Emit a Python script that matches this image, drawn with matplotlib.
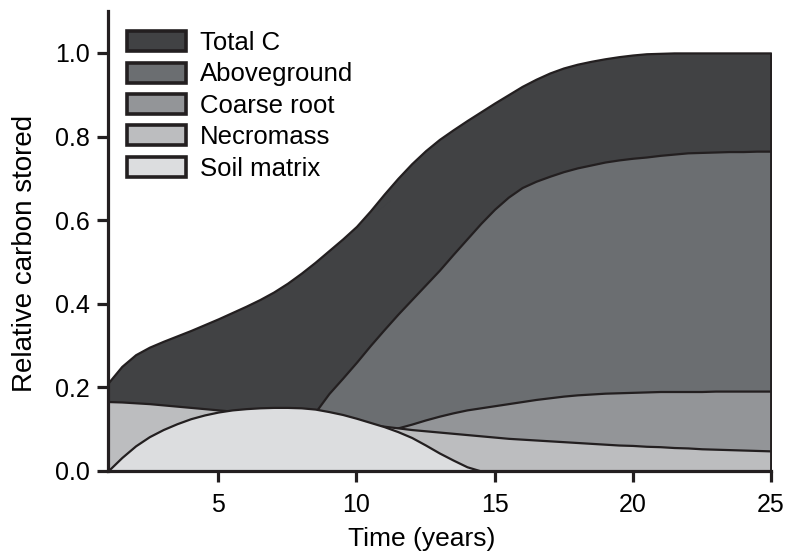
import matplotlib
matplotlib.use("Agg")
import matplotlib.pyplot as plt
from matplotlib.patches import Patch
import numpy as np

plt.rcParams['font.family'] = ['Liberation Sans', 'DejaVu Sans']

# time grid (years), half-year readings
years = np.arange(1.0, 25.5, 0.5)

total_c = [0.21, 0.25, 0.278, 0.296, 0.31, 0.323, 0.336, 0.35, 0.364, 0.379,
           0.394, 0.41, 0.428, 0.449, 0.473, 0.499, 0.527, 0.555, 0.585, 0.622,
           0.662, 0.70, 0.735, 0.766, 0.793, 0.816, 0.838, 0.859, 0.88, 0.90,
           0.92, 0.937, 0.952, 0.964, 0.973, 0.98, 0.986, 0.991, 0.995, 0.998,
           0.999, 1.0, 1.0, 1.0, 1.0, 1.0, 1.0, 1.0, 1.0]
aboveground = [0.0, 0.005, 0.01, 0.015, 0.02, 0.027, 0.035, 0.042, 0.05, 0.057,
               0.065, 0.075, 0.085, 0.097, 0.11, 0.14, 0.185, 0.222, 0.26, 0.30,
               0.338, 0.375, 0.41, 0.445, 0.48, 0.518, 0.555, 0.592, 0.626, 0.655,
               0.678, 0.693, 0.705, 0.716, 0.725, 0.732, 0.739, 0.744, 0.748, 0.751,
               0.755, 0.758, 0.761, 0.762, 0.763, 0.764, 0.764, 0.765, 0.765]
coarse_root = [0.03, 0.032, 0.035, 0.037, 0.04, 0.042, 0.045, 0.047, 0.05, 0.053,
               0.056, 0.059, 0.062, 0.066, 0.07, 0.074, 0.078, 0.082, 0.086, 0.091,
               0.096, 0.103, 0.112, 0.122, 0.131, 0.139, 0.146, 0.151, 0.156, 0.161,
               0.166, 0.171, 0.175, 0.179, 0.182, 0.184, 0.186, 0.187, 0.188, 0.189,
               0.19, 0.19, 0.19, 0.19, 0.191, 0.191, 0.191, 0.191, 0.191]
necromass = [0.166, 0.165, 0.163, 0.161, 0.158, 0.155, 0.152, 0.149, 0.146, 0.143,
             0.14, 0.137, 0.134, 0.131, 0.128, 0.124, 0.121, 0.117, 0.114, 0.11,
             0.107, 0.103, 0.099, 0.096, 0.093, 0.09, 0.087, 0.084, 0.081, 0.078,
             0.076, 0.074, 0.072, 0.07, 0.068, 0.066, 0.064, 0.062, 0.061, 0.059,
             0.058, 0.056, 0.055, 0.053, 0.052, 0.051, 0.05, 0.049, 0.048]
soil_matrix = [0.0, 0.032, 0.06, 0.082, 0.099, 0.113, 0.125, 0.134, 0.141, 0.146,
               0.149, 0.151, 0.152, 0.152, 0.151, 0.148, 0.142, 0.135, 0.126, 0.116,
               0.106, 0.094, 0.08, 0.062, 0.043, 0.026, 0.01, 0.0, 0.0, 0.0,
               0.0, 0.0, 0.0, 0.0, 0.0, 0.0, 0.0, 0.0, 0.0, 0.0,
               0.0, 0.0, 0.0, 0.0, 0.0, 0.0, 0.0, 0.0, 0.0]

labels = ["Total C", "Aboveground", "Coarse root", "Necromass", "Soil matrix"]
series = [total_c, aboveground, coarse_root, necromass, soil_matrix]
colors = ["#414244", "#6b6e71", "#939598", "#bcbdbf", "#dcdddf"]
edge = "#231f20"

x_ticks = [5, 10, 15, 20, 25]
y_ticks = [0.0, 0.2, 0.4, 0.6, 0.8, 1.0]
y_ticklabels = ["0.0", "0.2", "0.4", "0.6", "0.8", "1.0"]

fig = plt.figure(figsize=(7.88, 5.56), dpi=100)
ax = fig.add_axes([0.137, 0.153, 0.841, 0.827])

for vals, col in zip(series, colors):
    ax.fill_between(years, 0, vals, facecolor=col, edgecolor=edge, linewidth=1.6)

ax.set_xlim(1, 25)
ax.set_ylim(0, 1.1)
ax.set_xticks(x_ticks)
ax.set_yticks(y_ticks)
ax.set_yticklabels(y_ticklabels)
for s in ["top", "right"]:
    ax.spines[s].set_visible(False)
for s in ["left", "bottom"]:
    ax.spines[s].set_linewidth(2.3)
    ax.spines[s].set_color(edge)
ax.tick_params(axis="both", direction="out", length=8, width=2.3, color=edge,
               labelsize=18)
ax.tick_params(axis="x", pad=8)
ax.tick_params(axis="y", pad=5)
ax.set_xlabel("Time (years)", fontsize=19)
ax.set_ylabel("Relative carbon stored", fontsize=20)
ax.xaxis.set_label_coords(0.474, -0.122)
ax.yaxis.set_label_coords(-0.106, 0.472)

handles = [Patch(facecolor=c, edgecolor=edge, linewidth=2.6) for c in colors]
fig.legend(handles, labels, loc="upper left",
           bbox_to_anchor=(127 / 788, 1 - 31 / 556), bbox_transform=fig.transFigure,
           frameon=False, fontsize=18.5, handlelength=2.3, handleheight=0.82,
           labelspacing=0.29, handletextpad=0.55, borderpad=0, borderaxespad=0)

fig.savefig("out.png", dpi=100)
